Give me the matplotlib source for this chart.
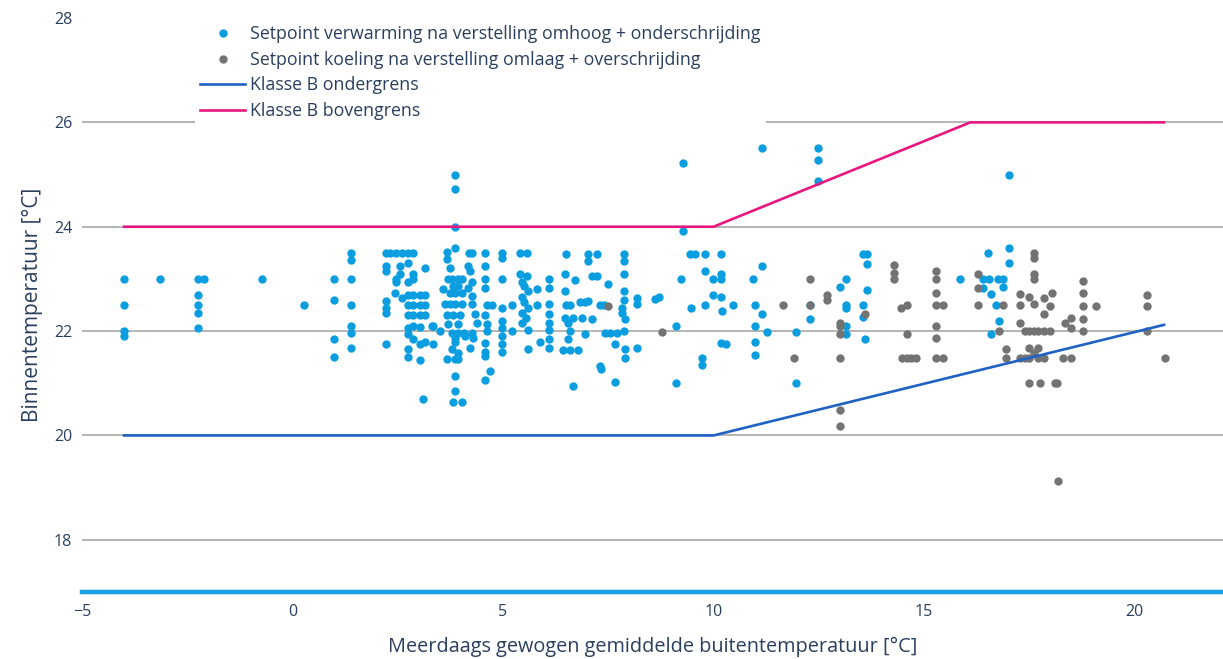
import matplotlib
matplotlib.use("Agg")
import matplotlib.pyplot as plt
from matplotlib.lines import Line2D

plt.rcParams['font.family'] = ['Open Sans', 'DejaVu Sans']

# ==========================================
# Data
# ==========================================
# heating setpoints, sparse left part (x < 2)
heat_left_x = [-4.0, -4.0, -4.0, -4.0, -3.15, -2.25, -2.1, -2.25, -2.25, -2.25, -2.25,
               -0.72, 0.27, 0.99, 0.99, 0.99, 0.99,
               1.4, 1.4, 1.4, 1.4, 1.4, 1.4, 1.4]
heat_left_y = [23.0, 22.5, 22.0, 21.9, 23.0, 23.0, 23.0, 22.7, 22.5, 22.35, 22.05,
               23.0, 22.5, 23.0, 22.6, 21.85, 21.5,
               23.5, 23.37, 23.0, 22.5, 22.1, 21.96, 21.67]

# heating setpoints, dense part (2 <= x < 8.8)
heat_mid_x = [2.22, 2.32, 2.46, 2.6, 2.74, 2.86,
              2.22, 2.22, 2.22, 2.22, 2.22, 2.22, 2.46, 2.46, 2.55, 2.55, 2.43, 2.6,
              2.74, 2.74, 2.74, 2.74, 2.74, 2.74, 2.74, 2.74, 2.74,
              2.86, 2.86, 2.86, 2.86, 2.86, 2.86, 2.86,
              3.03, 3.03, 3.03, 3.03, 3.03, 3.03, 3.15, 3.15, 3.15, 3.15, 3.15, 3.1,
              3.34, 3.34, 3.5, 3.31,
              3.86, 3.86, 3.86, 3.86, 3.67, 4.19, 4.26, 3.67, 3.74, 4.17, 4.22,
              3.69, 3.79, 3.93, 4.03, 4.26, 3.81, 3.93, 3.58, 3.74, 3.86, 4.03, 4.17, 4.26,
              3.62, 3.74, 3.86, 4.03, 4.26, 3.67, 3.81, 3.98, 4.33, 3.69, 3.93, 4.38,
              3.79, 3.93, 4.08, 4.26, 3.86, 3.86, 4.1, 4.28, 3.79, 3.93, 4.22,
              3.67, 3.86, 3.93, 3.86, 3.86, 3.81, 4.03,
              4.57, 4.57, 4.57, 4.57, 4.62, 4.74, 4.57, 4.62, 4.62, 4.57, 4.57, 4.57, 4.69, 4.57,
              4.98, 4.98, 4.98, 4.98, 4.98, 4.98, 4.98, 4.98, 4.98, 5.21, 5.21,
              5.4, 5.57, 5.4, 5.57, 5.45, 5.5, 5.6, 5.45, 5.5, 5.6, 5.45, 5.55, 5.45, 5.6, 5.59,
              5.81, 5.81, 5.88,
              6.1, 6.1, 6.1, 6.1, 6.1, 6.1, 6.1, 6.1,
              6.5, 6.47, 6.47, 6.5, 6.6, 6.71, 6.47, 6.54, 6.59, 6.54, 6.43, 6.59, 6.78, 6.66,
              6.66, 6.88,
              7.02, 7.23, 7.02, 7.11, 7.23, 6.82, 6.95, 7.02, 7.11, 6.95, 7.3, 7.4, 7.3, 7.32,
              7.49, 7.42, 7.54, 7.71, 7.66, 7.66,
              7.87, 7.87, 7.87, 7.87, 7.87, 7.83, 7.83, 7.9, 7.87, 7.9, 7.9,
              8.18, 8.18, 8.18, 8.6, 8.7]
heat_mid_y = [23.5, 23.5, 23.5, 23.5, 23.5, 23.5,
              23.25, 23.15, 22.58, 22.45, 22.35, 21.75, 23.0, 22.95, 23.25, 23.1, 22.73, 22.63,
              23.3, 22.95, 22.7, 22.5, 22.3, 22.06, 21.95, 21.65, 21.5,
              23.1, 23.0, 22.7, 22.5, 22.3, 22.1, 21.85,
              22.7, 22.5, 22.3, 22.08, 21.75, 21.45, 23.2, 22.7, 22.5, 22.3, 21.8, 20.7,
              22.1, 21.75, 22.0, 22.1,
              25.0, 24.72, 24.0, 23.6, 23.52, 23.5, 23.5, 23.38, 23.2, 23.25, 23.15,
              23.0, 23.0, 23.0, 23.0, 22.95, 22.87, 22.87, 22.8, 22.73, 22.73, 22.73, 22.83, 22.67,
              22.52, 22.52, 22.52, 22.52, 22.52, 22.3, 22.3, 22.3, 22.33, 22.13, 22.13, 22.15,
              21.96, 21.96, 21.96, 21.96, 21.87, 21.8, 21.9, 21.87, 21.65, 21.58, 21.67,
              21.46, 21.46, 21.46, 21.13, 20.85, 20.65, 20.65,
              23.5, 23.25, 23.0, 22.83, 22.5, 22.5, 22.3, 22.13, 22.0, 21.77, 21.6, 21.52, 21.23, 21.06,
              23.5, 23.4, 23.0, 22.45, 22.2, 22.05, 21.9, 21.75, 21.6, 22.5, 22.0,
              23.5, 23.5, 23.1, 23.05, 22.95, 22.87, 22.77, 22.65, 22.55, 22.45, 22.35, 22.25, 22.15, 22.03, 21.65,
              22.8, 22.5, 21.8,
              23.0, 22.83, 22.52, 22.33, 22.15, 22.03, 21.85, 21.67,
              23.48, 23.1, 22.77, 22.5, 22.5, 22.98, 22.25, 22.15, 22.0, 21.85, 21.63, 21.63, 21.63, 20.95,
              22.25, 22.25,
              23.48, 23.48, 23.35, 23.05, 23.05, 22.55, 22.55, 22.58, 22.23, 21.95, 22.5, 22.5, 21.33, 21.27,
              22.9, 21.96, 21.96, 21.96, 21.75, 21.03,
              23.48, 23.35, 23.1, 22.77, 22.6, 22.45, 22.35, 22.23, 22.0, 21.65, 21.48,
              22.63, 22.52, 21.67, 22.62, 22.65]

# heating setpoints, right part (x >= 8.8)
heat_right_x = [9.1, 9.1, 9.28, 9.28, 9.44, 9.56, 9.8, 9.23, 9.47, 9.8, 9.8, 9.73, 9.73,
                9.99, 9.99, 10.18, 10.18, 10.18, 10.18, 10.2, 10.18, 10.3, 10.46,
                10.94, 10.99, 10.99, 10.99, 10.99, 11.15, 11.15, 11.15, 11.27,
                11.96, 11.96, 12.3, 12.28, 12.48, 12.48, 12.48,
                13.0, 13.14, 13.14, 13.14, 13.14, 13.14,
                13.55, 13.65, 13.65, 13.65, 13.55, 13.55, 13.6,
                15.86, 16.52, 16.4, 16.55, 16.75, 16.88, 16.4, 16.6, 16.88, 16.7, 16.78, 16.6,
                17.02, 17.02, 17.02]
heat_right_y = [22.1, 21.0, 25.23, 23.92, 23.48, 23.48, 23.48, 23.0, 22.44, 23.15, 22.5, 21.48, 21.35,
                23.0, 22.7, 23.48, 23.1, 23.0, 22.65, 22.38, 21.78, 21.75, 22.5,
                23.0, 22.5, 22.1, 21.8, 21.55, 25.5, 23.25, 22.33, 21.98,
                21.98, 21.0, 22.5, 22.23, 25.5, 25.27, 24.88,
                22.85, 23.0, 22.5, 22.45, 22.1, 21.95,
                23.48, 23.48, 23.28, 22.78, 22.5, 22.27, 21.85,
                23.0, 23.5, 23.0, 23.0, 23.0, 23.0, 22.83, 22.72, 22.85, 22.5, 22.2, 21.95,
                25.0, 23.6, 23.3]

# cooling setpoints
cool_x = [7.5, 8.78, 11.65, 11.9, 12.3, 12.3, 12.7, 12.7, 13.0, 13.0, 13.0, 13.0, 13.0, 13.0,
          13.6, 14.29, 14.29, 14.29, 14.45, 14.6, 14.6, 14.48, 14.6, 14.7, 14.8,
          15.29, 15.29, 15.29, 15.29, 15.45, 15.29, 15.29, 15.29, 15.45,
          16.28, 16.28, 16.28, 16.88, 16.78, 16.95, 16.95,
          17.28, 17.28, 17.28, 17.28, 17.4, 17.5, 17.61, 17.61, 17.61, 17.61, 17.61,
          17.4, 17.5, 17.6, 17.7, 17.85, 18.0, 17.5, 17.6, 17.7, 17.5, 17.7, 17.85,
          17.5, 17.75, 18.1, 18.15, 17.85, 17.85, 18.0, 18.05, 18.18,
          18.35, 18.5, 18.5, 18.3, 18.5,
          18.78, 18.78, 18.78, 18.78, 18.78, 19.09, 20.3, 20.3, 20.3, 20.72]
cool_y = [22.48, 21.98, 22.5, 21.48, 23.0, 22.5, 22.7, 22.6, 22.15, 22.1, 21.95, 21.48, 20.48, 20.19,
          22.33, 23.27, 23.12, 23.0, 22.45, 22.5, 21.95, 21.48, 21.48, 21.48, 21.48,
          23.15, 23.0, 22.73, 22.5, 22.5, 22.1, 21.87, 21.48, 21.48,
          23.1, 22.83, 22.5, 22.5, 22.0, 21.65, 21.48,
          22.72, 22.5, 22.15, 21.48, 21.48, 22.65, 23.5, 23.4, 23.1, 23.0, 22.52,
          22.0, 22.0, 22.0, 22.0, 22.0, 22.0, 21.67, 21.58, 21.67, 21.48, 21.48, 21.48,
          21.0, 21.0, 21.0, 21.0, 22.32, 22.63, 22.48, 22.73, 19.12,
          22.15, 22.05, 22.25, 21.48, 21.48,
          22.96, 22.73, 22.48, 22.23, 22.0, 22.48, 22.7, 22.48, 22.0, 21.48]

# class B limits
lower_x = [-4.0, 10.0, 20.7]
lower_y = [20.0, 20.0, 22.12]
upper_x = [-4.0, 10.0, 16.1, 20.7]
upper_y = [24.0, 24.0, 26.0, 26.0]

y_ticks = [18, 20, 22, 24, 26, 28]
x_ticks = [-5, 0, 5, 10, 15, 20]

labels = ["Setpoint verwarming na verstelling omhoog + onderschrijding",
          "Setpoint koeling na verstelling omlaag + overschrijding",
          "Klasse B ondergrens",
          "Klasse B bovengrens"]

# ==========================================
# Colours
# ==========================================
c_heat = "#0A9EE0"
c_cool = "#737373"
c_lower = "#1F62C4"
c_upper = "#E8177F"
c_text = "#2A3F5F"
c_grid = "#A0A0A0"

# ==========================================
# Plot
# ==========================================
fig = plt.figure(figsize=(12.23, 6.59), dpi=100)
ax = fig.add_axes([82 / 1223, 1 - 592 / 659, 1 - 82 / 1223, (592 - 18) / 659])

ax.scatter(heat_left_x + heat_mid_x + heat_right_x,
           heat_left_y + heat_mid_y + heat_right_y,
           s=36, color=c_heat, linewidths=0, zorder=3)
ax.scatter(cool_x, cool_y, s=36, color=c_cool, linewidths=0, zorder=3)
ax.plot(lower_x, lower_y, color=c_lower, lw=1.9, zorder=4)
ax.plot(upper_x, upper_y, color=c_upper, lw=1.9, zorder=4)

ax.set_xlim(-5, 22.1)
ax.set_ylim(17, 28)
ax.set_xticks(x_ticks)
ax.set_xticklabels(["\u22125", "0", "5", "10", "15", "20"])
ax.set_yticks(y_ticks)

ax.grid(axis="y", color=c_grid, lw=1.1, zorder=0)
ax.yaxis.get_gridlines()[-1].set_visible(False)
# white zero line cuts the grid at x=0
ax.axvline(0, color="white", lw=1.5, zorder=1)

for side in ["top", "right", "left"]:
    ax.spines[side].set_visible(False)
ax.spines["bottom"].set_color("#17A2E6")
ax.spines["bottom"].set_linewidth(3.2)

ax.tick_params(axis="both", length=0, labelsize=11.5, labelcolor=c_text)
ax.tick_params(axis="x", pad=9)
ax.tick_params(axis="y", pad=7)

ax.set_xlabel("Meerdaags gewogen gemiddelde buitentemperatuur [°C]",
              fontsize=14.3, color=c_text, labelpad=12)
ax.set_ylabel("Binnentemperatuur [°C]", fontsize=15, color=c_text, labelpad=8)

handles = [
    Line2D([], [], ls="none", marker="o", ms=5, color=c_heat),
    Line2D([], [], ls="none", marker="o", ms=5, color=c_cool),
    Line2D([], [], color=c_lower, lw=1.9),
    Line2D([], [], color=c_upper, lw=1.9),
]
leg = ax.legend(handles, labels, loc="upper left", bbox_to_anchor=(195 / 1223, 1 - 20 / 659),
                bbox_transform=fig.transFigure, frameon=True, fontsize=12.8,
                labelcolor=c_text, handlelength=2.5, handletextpad=0.3,
                labelspacing=0.42, borderpad=0.3, borderaxespad=0)
leg.get_frame().set_facecolor("white")
leg.get_frame().set_edgecolor("none")
leg.get_frame().set_alpha(1)
leg.set_zorder(5)

fig.savefig("out.png", dpi=100)
